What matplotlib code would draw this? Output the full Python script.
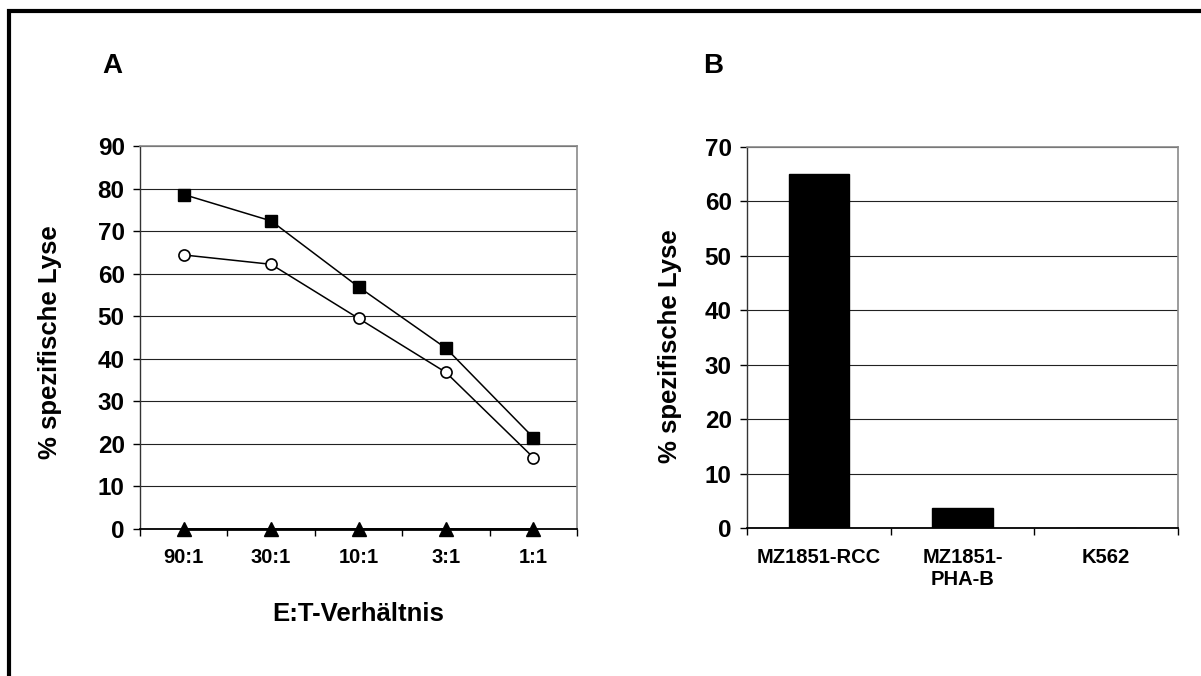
import matplotlib
matplotlib.use("Agg")
import matplotlib.pyplot as plt
from matplotlib.lines import Line2D
from matplotlib.ticker import FixedLocator, NullFormatter

# --- data ---
ratios = ["90:1", "30:1", "10:1", "3:1", "1:1"]
lysis_square = [78.6, 72.4, 56.9, 42.5, 21.5]
lysis_circle = [64.4, 62.2, 49.5, 36.8, 16.8]
lysis_triangle = [0, 0, 0, 0, 0]

targets = ["MZ1851-RCC", "MZ1851-\nPHA-B", "K562"]
target_lysis = [65.0, 3.8, 0.0]

plt.rcParams["font.family"] = ["Liberation Sans", "DejaVu Sans"]
plt.rcParams["font.weight"] = "bold"

W, H = 1201, 676
fig = plt.figure(figsize=(W / 100, H / 100), dpi=100)


def fx(x):
    return x / W


def fy(y):
    return 1 - y / H


def style_axes(ax, ymax):
    ax.set_ylim(0, ymax)
    ax.set_yticks(range(0, ymax + 1, 10))
    ax.yaxis.grid(True, color="#222222", lw=0.8)
    ax.set_axisbelow(True)
    for s in ("top", "right"):
        ax.spines[s].set_color("#8a8a8a")
        ax.spines[s].set_linewidth(1.2)
    ax.spines["left"].set_color("#333333")
    ax.spines["left"].set_linewidth(1.0)
    ax.spines["bottom"].set_color("black")
    ax.spines["bottom"].set_linewidth(1.3)
    ax.tick_params(axis="y", length=5, width=1, pad=6, labelsize=17.5)
    # category ticks sit on the boundaries
    ax.tick_params(axis="x", which="major", length=0, pad=14, labelsize=14.5)
    ax.tick_params(axis="x", which="minor", length=5, width=1, direction="out")
    ax.xaxis.set_minor_formatter(NullFormatter())


# --- panel A ---
axA = fig.add_axes([fx(140), fy(529), fx(577) - fx(140), fy(146) - fy(529)])
xa = list(range(len(ratios)))
axA.plot(xa, lysis_square, color="black", lw=1.1, marker="s", ms=9,
         mfc="black", mec="black", zorder=3)
axA.plot(xa, lysis_circle, color="black", lw=1.1, marker="o", ms=8,
         mfc="white", mec="black", mew=1.2, zorder=3)
axA.plot(xa, lysis_triangle, color="black", lw=2, marker="^", ms=10,
         mfc="black", mec="black", zorder=4, clip_on=False)
axA.set_xlim(-0.5, len(ratios) - 0.5)
axA.set_xticks(xa)
axA.set_xticklabels(ratios)
axA.xaxis.set_minor_locator(FixedLocator([i - 0.5 for i in range(len(ratios) + 1)]))
style_axes(axA, 90)

# --- panel B ---
axB = fig.add_axes([fx(747), fy(528.3), fx(1178) - fx(747), fy(146.7) - fy(528.3)])
xb = list(range(len(targets)))
axB.bar(xb, target_lysis, width=0.42, color="black", edgecolor="black", zorder=3)
axB.set_xlim(-0.5, len(targets) - 0.5)
axB.set_xticks(xb)
axB.set_xticklabels(targets, linespacing=1.2)
axB.xaxis.set_minor_locator(FixedLocator([i - 0.5 for i in range(len(targets) + 1)]))
style_axes(axB, 70)

# --- labels ---
fig.text(fx(358), fy(614), "E:T-Verhältnis", ha="center", va="center",
         fontsize=18.5, fontweight="bold")
fig.text(fx(50), fy(342), "% spezifische Lyse", ha="center", va="center",
         rotation=90, fontsize=18.5, fontweight="bold")
fig.text(fx(670), fy(346), "% spezifische Lyse", ha="center", va="center",
         rotation=90, fontsize=18.5, fontweight="bold")
fig.text(fx(112), fy(66), "A", ha="center", va="center", fontsize=20, fontweight="bold")
fig.text(fx(713), fy(66), "B", ha="center", va="center", fontsize=20, fontweight="bold")

# --- outer frame (only top and left visible) ---
fig.add_artist(Line2D([fx(9), fx(9), fx(W + 5)], [fy(H + 5), fy(10.5), fy(10.5)],
                      transform=fig.transFigure, color="black", lw=3.0,
                      solid_joinstyle="miter"))

fig.savefig("out.png", dpi=100)
